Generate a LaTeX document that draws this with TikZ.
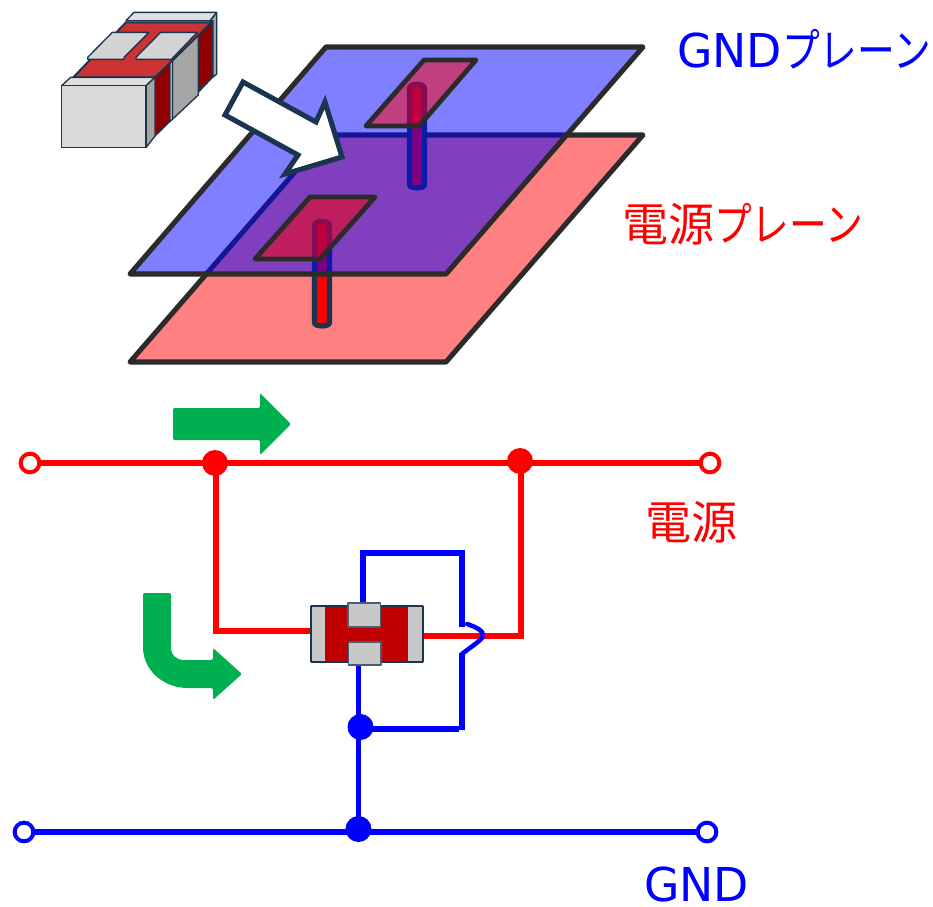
\documentclass[tikz,border=0pt]{standalone}
\usepackage{fontspec}
\newfontfamily\jpfont{Noto Sans CJK JP}
\newfontfamily\kanafont[FakeStretch=0.82]{Noto Sans CJK JP}
\newfontfamily\lat[FakeStretch=0.98]{DejaVu Sans}
\definecolor{navy}{HTML}{1B3550}
\definecolor{plane}{HTML}{2B2B2B}
\definecolor{grn}{HTML}{00B050}
\definecolor{capred}{HTML}{C00000}
\definecolor{capgrey}{HTML}{C8C8C8}
\definecolor{iconred}{HTML}{CC3333}
\definecolor{icondark}{HTML}{900000}
\newcommand{\gndtxt}{{\fontsize{35pt}{38pt}\lat GND}}
\newcommand{\kanjitxt}[1]{{\fontsize{34.5pt}{38pt}\jpfont #1}}
\newcommand{\kanatxt}[1]{{\fontsize{34.5pt}{38pt}\kanafont #1}}
\tikzset{
  planeedge/.style={draw=plane,line width=3.8pt,line join=round},
  viabody/.style={draw=navy,line width=3.8pt,fill=red,line join=round},
  padface/.style={draw=plane,line width=3.6pt,line join=round,fill=red,fill opacity=.5},
  rline/.style={draw=red,line width=3.8pt},
  bline/.style={draw=blue,line width=3.8pt},
  rdot/.style={circle,fill=red,inner sep=0pt,minimum size=19.5pt},
  bdot/.style={circle,fill=blue,inner sep=0pt,minimum size=19.5pt},
  ropen/.style={circle,draw=red,fill=white,line width=3pt,inner sep=0pt,minimum size=14pt},
  bopen/.style={circle,draw=blue,fill=white,line width=3pt,inner sep=0pt,minimum size=14pt},
  icon/.style={draw=navy,line width=1pt,line join=round},
  termface/.style={draw=navy!80,line width=1.2pt,fill=capgrey,line join=round},
  label/.style={inner sep=0pt,anchor=base west},
}
\begin{document}
\begin{tikzpicture}[x=0.75pt,y=-0.75pt]
\useasboundingbox (0,0) rectangle (933,907);

% Component icon
\begin{scope}[shift={(40,0)},x=0.25pt,y=-0.25pt]
  \draw[icon,fill=black!35] (510,62) -- (530,38) -- (530,222) -- (518,232) -- cycle;
  \draw[icon,fill=black!12] (258,62) -- (282,37) -- (530,37) -- (510,62) -- cycle;
  \draw[icon,fill=icondark,line width=1.5pt] (475,100) -- (518,62) -- (518,230) -- (475,275) -- cycle;
  \draw[icon,fill=icondark] (345,232) -- (392,185) -- (392,362) -- (345,408) -- cycle;
  \draw[icon,fill=black!35] (397,182) -- (475,100) -- (475,285) -- (397,358) -- cycle;
  \draw[icon,fill=black!5] (390,185) -- (397,180) -- (397,358) -- (390,364) -- cycle;
  \draw[icon,fill=iconred,line width=1.5pt] (100,232) -- (258,67) -- (515,67) -- (345,232) -- cycle;
  \draw[icon,fill=black!17] (143,172) -- (217,97) -- (327,97) -- (252,172) -- (252,178) -- (143,178) -- cycle;
  \draw[icon,fill=black!17] (288,172) -- (362,97) -- (472,97) -- (397,175) -- (397,178) -- (288,178) -- cycle;
  \draw[icon,fill=black!12] (65,257) -- (92,232) -- (345,232) -- (318,257) -- cycle;
  \draw[icon,fill=black!35] (318,257) -- (345,232) -- (345,408) -- (318,443) -- cycle;
  \draw[icon,fill=black!15] (65,257) rectangle (318,443);
\end{scope}

% Power plane
\draw[planeedge,fill={rgb,255:red,255;green,128;blue,128}] (327,135) -- (643,135) -- (446,362) -- (130,362) -- cycle;

% Vias
\draw[viabody] (409.5,88) .. controls (409.5,83) and (424.5,83) .. (424.5,88) -- (424.5,185) .. controls (424.5,189) and (409.5,189) .. (409.5,185) -- cycle;
\draw[viabody] (314.5,225) .. controls (314.5,220) and (329.5,220) .. (329.5,225) -- (329.5,323) .. controls (329.5,327) and (314.5,327) .. (314.5,323) -- cycle;

% GND plane
\draw[draw=none,fill=blue,fill opacity=.5] (326,47) -- (643,47) -- (446,274) -- (130,274) -- cycle;
\draw[planeedge] (326,47) -- (643,47) -- (446,274) -- (130,274) -- cycle;

% Pads
\draw[padface] (424,60) -- (476,60) -- (419,126) -- (366,126) -- cycle;
\draw[padface] (310,197) -- (375,197) -- (320,259) -- (255,259) -- cycle;

% Big white arrow
\draw[draw=navy,line width=3.8pt,fill=white,miter limit=10]
  (243,82) -- (316,122) -- (325,102) -- (342,157) -- (285,174) -- (298,155) -- (225,115) -- cycle;

% Plane labels
\node[label,text=blue] (gndp) at (677,67) {\gndtxt\kanatxt{プレーン}};
\node[label,text=red] (pwrp) at (622,241) {\kanjitxt{電源}\kanatxt{プレーン}};

% Green arrows
\fill[grn,rounded corners=1pt] (173,408) -- (260,408) -- (260,393) -- (291,424) -- (260,455) -- (260,440) -- (173,440) -- cycle;
\fill[grn,rounded corners=1.5pt] (143,593) -- (171,593) -- (171,647) .. controls (171,655) and (177,660) .. (185,660) -- (213,660) -- (213,648) -- (242,674) -- (213,700) -- (213,688) -- (190,688) .. controls (163,688) and (143,670) .. (143,645) -- cycle;

% Power rail
\coordinate (p1) at (216,631);
\coordinate (p2) at (311,631);
\coordinate (p3) at (423,636);
\coordinate (p4) at (521,636);
\draw[rline] (30,463) -- (710,463);
\draw[rline,line join=miter] (216,463) -- (p1) -- (p2);
\draw[rline,line join=miter] (p3) -- (p4) -- (521,461);
\node[ropen] (ra) at (30,463) {};
\node[ropen] (rb) at (710,463) {};
\node[rdot] (rc) at (215,463) {};
\node[rdot] (rd) at (520,461) {};

% GND wires
\draw[bline] (24,832) -- (707,832);
\draw[bline] (358.5,665) -- (358.5,830);
\draw[bline] (360,729) -- (459,729);
\draw[bline,line join=miter] (363,606) -- (363,553) -- (462,553);
\draw[bline] (462,550) -- (462,627);
\draw[bline] (462,653) -- (462,730);
\draw[bline,line width=3.4pt,line cap=round] (467,624) .. controls (476,627) and (484,631) .. (483,636) .. controls (482,640) and (472,646) .. (462,654);

% Capacitor symbol
\draw[navy,line width=1.4pt,fill=capgrey,rounded corners=.5pt] (311,606) rectangle (423,662);
\fill[capred] (325,607) rectangle (408,661);
\draw[termface] (348,603) rectangle (380.5,627);
\draw[termface] (348.5,642) rectangle (381,665);

\node[bopen] (ba) at (24,832) {};
\node[bopen] (bb) at (707,832) {};
\node[bdot] (bc) at (358.5,829) {};
\node[bdot] (bd) at (360.5,727) {};

\node[label,text=red] (pwr) at (645,539) {\kanjitxt{電源}};
\node[label,text=blue] (gnd) at (644,901) {\gndtxt};
\end{tikzpicture}
\end{document}
